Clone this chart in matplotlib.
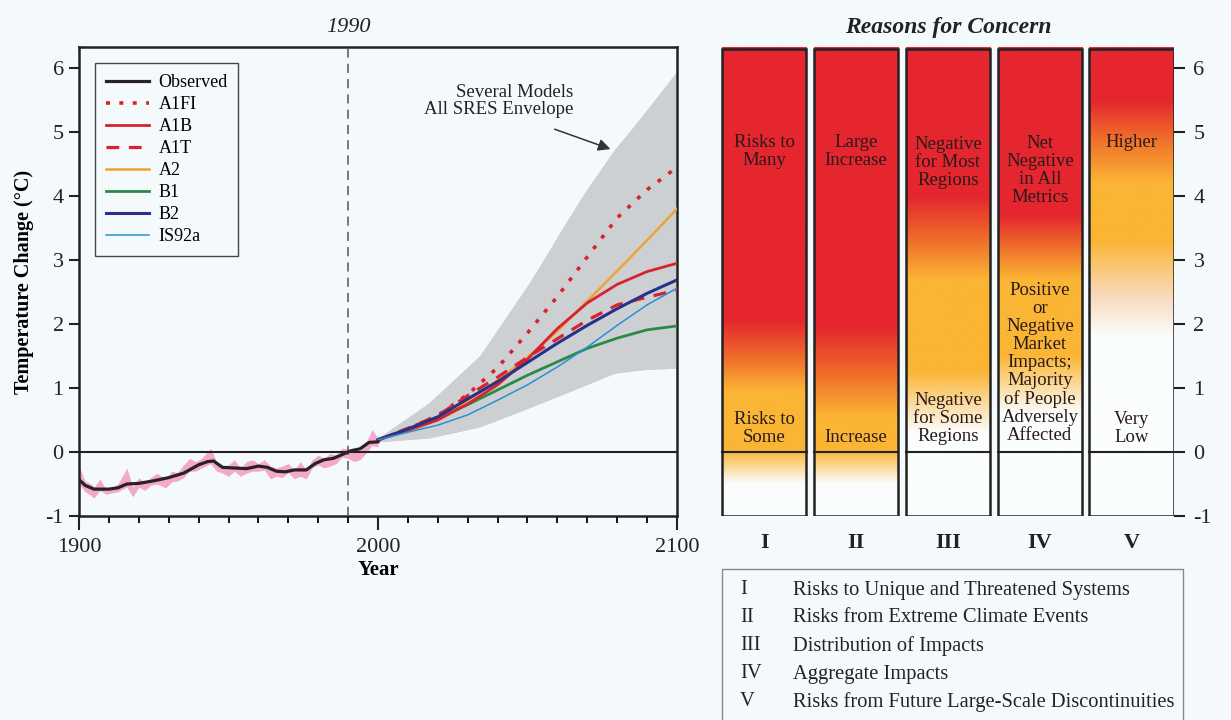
import numpy as np
import matplotlib
matplotlib.use("Agg")
import matplotlib.pyplot as plt
from matplotlib.colors import to_rgb
from matplotlib.patches import Rectangle
from matplotlib.ticker import MultipleLocator

plt.rcParams['font.family'] = ['Liberation Serif', 'DejaVu Serif']
plt.rcParams['axes.unicode_minus'] = False

# ---------------- data ----------------
obs_years = [1900, 1902, 1905, 1910, 1913, 1916, 1920, 1925, 1930, 1935, 1940, 1943, 1945,
             1948, 1952, 1956, 1960, 1963, 1966, 1969, 1972, 1976, 1979, 1982, 1985, 1988,
             1991, 1994, 1997, 2000]
obs_smooth = [-0.43, -0.52, -0.58, -0.58, -0.56, -0.50, -0.49, -0.45, -0.40, -0.33, -0.20,
              -0.15, -0.14, -0.24, -0.25, -0.26, -0.22, -0.24, -0.30, -0.31, -0.28, -0.28,
              -0.18, -0.12, -0.10, -0.04, 0.02, 0.05, 0.15, 0.16]

band_years = [1900, 1902, 1904, 1905, 1907, 1909, 1911, 1913, 1916, 1918, 1920, 1922, 1924,
              1926, 1929, 1931, 1933, 1935, 1937, 1939, 1941, 1944, 1946, 1948, 1950, 1952,
              1954, 1956, 1958, 1960, 1962, 1964, 1966, 1968, 1970, 1972, 1974, 1976, 1978,
              1980, 1982, 1984, 1986, 1988, 1990, 1992, 1994, 1996, 1998, 2000]
band_hi = [-0.22, -0.45, -0.50, -0.55, -0.42, -0.58, -0.55, -0.50, -0.25, -0.55, -0.40, -0.48,
           -0.40, -0.33, -0.42, -0.30, -0.32, -0.20, -0.10, -0.15, -0.10, 0.06, -0.15, -0.22,
           -0.20, -0.12, -0.25, -0.15, -0.12, -0.18, -0.12, -0.22, -0.25, -0.22, -0.18, -0.28,
           -0.15, -0.28, -0.12, -0.05, -0.10, -0.02, -0.05, 0.06, 0.05, 0.00, 0.02, 0.15,
           0.35, 0.22]
band_lo = [-0.50, -0.62, -0.68, -0.72, -0.60, -0.66, -0.64, -0.62, -0.55, -0.70, -0.55, -0.60,
           -0.52, -0.50, -0.56, -0.47, -0.45, -0.40, -0.30, -0.30, -0.25, -0.18, -0.30, -0.33,
           -0.38, -0.30, -0.38, -0.33, -0.30, -0.30, -0.28, -0.42, -0.38, -0.40, -0.32, -0.42,
           -0.38, -0.42, -0.25, -0.20, -0.25, -0.22, -0.18, -0.08, -0.10, -0.15, -0.12, -0.02,
           0.10, 0.08]

proj_years = [2000, 2010, 2020, 2030, 2040, 2050, 2060, 2070, 2080, 2090, 2100]
a1fi = [0.19, 0.36, 0.57, 0.90, 1.32, 1.86, 2.43, 3.05, 3.66, 4.10, 4.45]
a1b = [0.19, 0.34, 0.50, 0.75, 1.05, 1.45, 1.93, 2.33, 2.62, 2.82, 2.95]
a1t = [0.19, 0.37, 0.57, 0.88, 1.17, 1.48, 1.77, 2.06, 2.30, 2.42, 2.53]
a2 = [0.19, 0.33, 0.50, 0.80, 1.12, 1.48, 1.89, 2.36, 2.83, 3.31, 3.80]
b1 = [0.19, 0.36, 0.53, 0.74, 0.97, 1.20, 1.41, 1.62, 1.78, 1.91, 1.97]
b2 = [0.19, 0.36, 0.55, 0.83, 1.10, 1.40, 1.70, 1.98, 2.24, 2.48, 2.69]
is92a = [0.19, 0.31, 0.42, 0.58, 0.81, 1.05, 1.33, 1.64, 1.98, 2.30, 2.56]

env_years = [2000, 2010, 2017, 2028, 2037, 2046, 2056, 2061, 2070, 2079, 2090, 2100]
env_hi = [0.22, 0.50, 0.77, 1.18, 1.67, 2.30, 3.05, 3.45, 4.12, 4.72, 5.34, 5.95]
env_lo_years = [2000, 2017, 2034, 2051, 2068, 2079, 2084, 2100]
env_lo = [0.16, 0.22, 0.39, 0.70, 1.02, 1.23, 1.28, 1.31]

concern_ids = ['I', 'II', 'III', 'IV', 'V']
concern_names = ['Risks to Unique and Threatened Systems',
                 'Risks from Extreme Climate Events',
                 'Distribution of Impacts',
                 'Aggregate Impacts',
                 'Risks from Future Large-Scale Discontinuities']
upper_text = ['Risks to\nMany', 'Large\nIncrease', 'Negative\nfor Most\nRegions',
              'Net\nNegative\nin All\nMetrics', 'Higher']
upper_level = [4.69, 4.69, 4.53, 4.40, 4.84]
lower_text = ['Risks to\nSome', 'Increase', 'Negative\nfor Some\nRegions',
              'Positive\nor\nNegative\nMarket\nImpacts;\nMajority\nof People\nAdversely\nAffected',
              'Very\nLow']
lower_level = [0.37, 0.23, 0.53, 1.39, 0.37]

# colour stops (temperature, colour) for each reason-for-concern column
RED, ORA, YEL, WHT = '#e5262f', '#ef6f2a', '#fbb535', '#fbfdfd'
stops_I = [(-1, WHT), (-0.5, WHT), (0.02, YEL), (0.95, YEL), (1.45, ORA), (2.05, RED), (6.4, RED)]
stops_II = [(-1, WHT), (-0.5, WHT), (0.02, YEL), (0.55, YEL), (1.2, ORA), (1.95, RED), (6.4, RED)]
stops_III = [(-1, WHT), (0.3, WHT), (1.25, YEL), (2.7, YEL), (3.3, ORA), (4.0, RED), (6.4, RED)]
stops_IV = [(-1, WHT), (0.6, WHT), (1.5, YEL), (2.7, YEL), (3.2, ORA), (3.7, RED), (6.4, RED)]
stops_V = [(-1, WHT), (1.8, WHT), (2.4, '#f8dcc0'), (3.3, YEL), (4.2, YEL), (4.9, ORA), (5.5, RED), (6.4, RED)]
column_stops = [stops_I, stops_II, stops_III, stops_IV, stops_V]

BG = '#f4fafc'
YMIN, YMAX = -1, 6.33


def column_rgb(stops, n=500):
    vals = np.linspace(YMIN, YMAX, n)
    lev = [s[0] for s in stops]
    cols = np.array([to_rgb(s[1]) for s in stops])
    rgb = np.stack([np.interp(vals, lev, cols[:, k]) for k in range(3)], axis=-1)
    return rgb[:, None, :]


fig = plt.figure(figsize=(12.31, 7.2), dpi=100, facecolor=BG)

# ---------------- left panel ----------------
ax = fig.add_axes([79 / 1231, 1 - 516 / 720, 598 / 1231, 469 / 720], facecolor=BG)
ax.fill_between(env_years, env_hi, np.interp(env_years, env_lo_years, env_lo),
                color='#cdd0d3', lw=0, zorder=1)
ax.fill_between(env_lo_years, np.interp(env_lo_years, env_years, env_hi), env_lo,
                color='#cdd0d3', lw=0, zorder=1)
ax.fill_between(band_years, band_lo, band_hi, color='#f4a9cc', lw=0, zorder=2)
ax.axhline(0, color='#222222', lw=1.5, zorder=3)
ax.axvline(1990, color='#555555', lw=1.1, ls=(0, (6, 4)), zorder=3)

ax.plot(obs_years, obs_smooth, color='#2a2222', lw=2.3, label='Observed', zorder=6)
ax.plot(proj_years, a1fi, color='#d8232f', lw=2.6, ls=(0, (1.1, 2.6)), label='A1FI', zorder=5)
ax.plot(proj_years, a1b, color='#d8232f', lw=2.0, label='A1B', zorder=5)
ax.plot(proj_years, a1t, color='#d8232f', lw=2.3, ls=(0, (4, 3)), label='A1T', zorder=5)
ax.plot(proj_years, a2, color='#eea232', lw=1.8, label='A2', zorder=4)
ax.plot(proj_years, b1, color='#2a8a48', lw=2.0, label='B1', zorder=4)
ax.plot(proj_years, b2, color='#28318a', lw=2.2, label='B2', zorder=5)
ax.plot(proj_years, is92a, color='#2a8fd2', lw=1.1, label='IS92a', zorder=5)

ax.set_xlim(1900, 2100)
ax.set_ylim(YMIN, YMAX)
ax.set_xticks([1900, 2000, 2100])
ax.xaxis.set_minor_locator(MultipleLocator(10))
ax.set_yticks(range(-1, 7))
ax.tick_params(axis='both', which='major', direction='out', labelsize=16, width=1.5, colors='#222222')
ax.tick_params(axis='x', which='major', length=10, pad=6)
ax.tick_params(axis='x', which='minor', direction='out', length=5, width=1.3)
ax.tick_params(axis='y', length=7, pad=4)
for s in ax.spines.values():
    s.set_linewidth(1.8)
    s.set_color('#222222')
ax.set_xlabel('Year', fontsize=15, fontweight='bold', labelpad=2)
ax.set_ylabel('Temperature Change (°C)', fontsize=14.5, fontweight='bold', labelpad=8)
ax.text(1990, 6.63, '1990', fontsize=16, style='italic', ha='center', va='center', color='#222222')

leg = ax.legend(loc='upper left', bbox_to_anchor=(0.012, 0.985), fontsize=13, frameon=True,
                fancybox=False, edgecolor='#444444', facecolor=BG, handlelength=2.4,
                labelspacing=0.28, borderpad=0.6, handletextpad=0.5)
leg.get_frame().set_linewidth(1.0)
leg.get_frame().set_alpha(1)

ax.annotate('', xy=(2078.6, 4.72), xytext=(2058.2, 5.06),
            arrowprops=dict(arrowstyle='-|>', color='#333333', lw=1.1, mutation_scale=18))
ax.text(2065.2, 5.48, 'Several Models\nAll SRES Envelope', fontsize=13.5, ha='right', va='center',
        multialignment='right', color='#222222', linespacing=1.0)

# ---------------- right panel ----------------
axr = fig.add_axes([718.3 / 1231, 1 - 516 / 720, (1174 - 718.3) / 1231, 469 / 720], facecolor=BG)
axr.set_xlim(0, 4.96)
axr.set_ylim(YMIN, YMAX)
for i, stops in enumerate(column_stops):
    x0, x1 = i + 0.04, i + 0.96
    axr.imshow(column_rgb(stops), extent=(x0, x1, YMIN, YMAX), origin='lower',
               aspect='auto', interpolation='bilinear', zorder=1)
    axr.add_patch(Rectangle((x0, YMIN), x1 - x0, YMAX - YMIN - 0.03, fill=False,
                            ec='#222222', lw=1.8, zorder=3))
    axr.plot([x0, x1], [0, 0], color='#222222', lw=1.5, zorder=3)
    axr.text(i + 0.5, upper_level[i], upper_text[i], ha='center', va='center',
             fontsize=13.5, color='#2a1a1a', linespacing=1.07, zorder=4)
    axr.text(i + 0.5, lower_level[i], lower_text[i], ha='center', va='center',
             fontsize=13.5, color='#2a1a1a', linespacing=1.07, zorder=4)
    axr.text(i + 0.5, -1.42, concern_ids[i], ha='center', va='center', fontsize=16,
             fontweight='bold', color='#222222', clip_on=False)
axr.set_xticks([])
axr.set_yticks(range(-1, 7))
axr.yaxis.tick_right()
axr.tick_params(axis='y', direction='out', length=8, width=1.5, labelsize=16, pad=6,
                colors='#222222')
for s in axr.spines.values():
    s.set_visible(False)
axr.text(2.5, 6.64, 'Reasons for Concern', ha='center', va='center', fontsize=17,
         fontweight='bold', style='italic', color='#222222')

# ---------------- key box ----------------
fig.patches.append(Rectangle((722 / 1231, -0.01), (1183 - 722) / 1231, (1 - 569 / 720) + 0.01,
                             transform=fig.transFigure, fill=False, ec='#888888', lw=1.0))
for k, (rid, name) in enumerate(zip(concern_ids, concern_names)):
    yy = 1 - (590 + k * 28) / 720
    fig.text(740 / 1231, yy, rid, fontsize=14.8, va='center', ha='left', color='#222222')
    fig.text(793 / 1231, yy, name, fontsize=14.8, va='center', ha='left', color='#222222')

fig.savefig('out.png', dpi=100, facecolor=BG)
